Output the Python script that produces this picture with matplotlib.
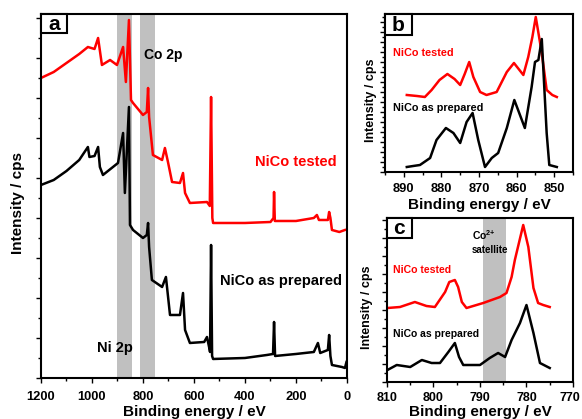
import numpy as np
import matplotlib.pyplot as plt
import matplotlib.transforms as mtransforms
from matplotlib.ticker import MultipleLocator
from matplotlib.patches import Rectangle

plt.rcParams['font.family'] = ['Liberation Sans', 'DejaVu Sans']
plt.rcParams['font.weight'] = 'bold'
plt.rcParams['mathtext.fontset'] = 'custom'
plt.rcParams['mathtext.bf'] = 'Liberation Sans:bold'
plt.rcParams['mathtext.rm'] = 'Liberation Sans:bold'

# ---- survey spectra (panel a) ----
surv_E_tested = [1200, 1150, 1100, 1050, 1016, 990, 976, 961, 929, 902, 878, 867, 855, 847, 839,
                 800, 785, 780, 776, 761, 725, 714, 702, 686, 655, 643, 635, 616, 549, 538, 533,
                 528, 525, 400, 300, 288, 286, 283, 200, 130, 118, 110, 75, 70, 65, 59, 30, 8]
surv_I_tested = [300, 306, 315, 324, 331, 329, 340, 313, 318, 313, 331, 296, 358, 278, 275,
                 263, 266, 290, 261, 223, 218, 230, 216, 196, 195, 205, 185, 175, 176, 172, 281,
                 160, 155, 155, 156, 160, 186, 157, 157, 160, 163, 158, 158, 166, 160, 148, 146, 148]

surv_E_prep = [1200, 1150, 1100, 1050, 1016, 1010, 990, 976, 969, 957, 898, 878, 871, 855, 851,
               839, 800, 785, 780, 776, 765, 725, 710, 694, 655, 643, 635, 616, 560, 549, 540,
               537, 533, 529, 525, 400, 314, 290, 286, 282, 200, 130, 114, 105, 75, 70, 65, 59, 20, 8, 2]
surv_I_prep = [193, 198, 207, 218, 231, 221, 222, 231, 211, 203, 215, 245, 185, 271, 153,
               148, 140, 143, 155, 131, 98, 91, 101, 63, 63, 85, 48, 35, 36, 41, 30,
               26, 133, 22, 19, 20, 23, 24, 56, 22, 24, 26, 35, 25, 28, 43, 22, 13, 11, 10, 16]

band_ni = (843, 902)
band_co = (753, 812)

# ---- Ni 2p (panel b) ----
ni_E_tested = [889.2, 886.5, 884.4, 882.6, 880.5, 878.4, 876.5, 875.0, 873.8, 872.6, 871.5, 869.7,
               868.0, 865.3, 862.6, 860.7, 858.2, 856.9, 855.8, 854.9, 853.3, 852.0, 850.5, 849.3]
ni_I_tested = [77, 76, 75, 82, 92, 98, 93, 87, 98, 110, 95, 80,
               77, 80, 100, 109, 97, 115, 135, 155, 119, 82, 77, 75]

ni_E_prep = [889.2, 887.5, 885.7, 883.0, 881.3, 878.8, 876.8, 875.0, 873.3, 871.7, 870.2, 868.4,
             866.6, 864.9, 862.6, 860.6, 857.8, 856.0, 855.1, 854.2, 853.3, 852.0, 851.3, 849.3]
ni_I_prep = [5, 6, 7, 14, 32, 44, 39, 29, 50, 59, 32, 5,
             14, 19, 44, 72, 44, 85, 110, 112, 133, 39, 7, 5]

# ---- Co 2p (panel c) ----
co_E_tested = [809.9, 807.2, 804.0, 801.5, 799.7, 797.5, 796.6, 795.4, 794.7, 793.9, 792.9, 789.3,
               785.7, 784.3, 783.2, 782.5, 780.7, 779.6, 778.5, 777.5, 776.4, 775.0]
co_I_tested = [74, 75, 80, 76, 75, 90, 100, 102, 95, 80, 74, 79,
               85, 89, 105, 122, 157, 135, 94, 79, 77, 75]

co_E_prep = [809.9, 807.9, 805.0, 802.5, 800.4, 798.6, 796.8, 795.4, 794.5, 793.6, 790.0, 787.9,
             786.1, 784.6, 783.2, 781.4, 780.0, 778.5, 777.1, 775.0]
co_I_prep = [12, 17, 15, 22, 19, 19, 30, 39, 25, 17, 17, 24,
             29, 25, 42, 59, 77, 49, 19, 14]

band_sat = (784.5, 789.3)

fig = plt.figure(figsize=(5.82, 4.19), dpi=100)
ax_a = fig.add_axes([0.0704, 0.0979, 0.5258, 0.8687])
ax_b = fig.add_axes([0.6615, 0.5895, 0.3230, 0.3771])
ax_c = fig.add_axes([0.6649, 0.0883, 0.3196, 0.3914])


def style(ax, xmaj, xmin, ymaj, ymin, pad, size=9.3):
    for s in ax.spines.values():
        s.set_linewidth(1.5)
    ax.xaxis.set_major_locator(MultipleLocator(xmaj))
    ax.xaxis.set_minor_locator(MultipleLocator(xmin))
    ax.yaxis.set_major_locator(MultipleLocator(ymaj))
    ax.yaxis.set_minor_locator(MultipleLocator(ymin))
    ax.tick_params(which='both', direction='out', top=False, right=False, width=1.0)
    ax.tick_params(which='major', length=3.5)
    ax.tick_params(which='minor', length=2.5)
    ax.tick_params(axis='x', labelsize=size, pad=pad)
    ax.set_yticklabels([])
    for t in ax.get_xticklabels():
        t.set_fontweight('bold')


def tag(ax, s, w, h):
    ax.add_patch(Rectangle((0, 1 - h), w, h, transform=ax.transAxes, fc='white',
                           ec='black', lw=1.5, zorder=5, clip_on=False))
    ax.text(w / 2, 1 - h / 2 - 0.004, s, transform=ax.transAxes, fontsize=15,
            fontweight='bold', ha='center', va='center', zorder=6)


# panel a
ax_a.axvspan(*band_ni, color='#c0c0c0', lw=0, zorder=0)
ax_a.axvspan(*band_co, color='#c0c0c0', lw=0, zorder=0)
ax_a.plot(surv_E_tested, surv_I_tested, color='red', lw=1.8)
ax_a.plot(surv_E_prep, surv_I_prep, color='black', lw=1.8)
ax_a.set_xlim(1200, 0)
ax_a.set_ylim(0, 364)
style(ax_a, 200, 100, 40, 20, 6.0)
ax_a.set_xlabel('Binding energy / eV', fontsize=11, fontweight='bold', labelpad=1.5)
ax_a.set_ylabel('Intensity / cps', fontsize=11, fontweight='bold')
ax_a.yaxis.set_label_coords(-0.052, 0.48)
tag(ax_a, 'a', 0.085, 0.052)
ax_a.text(795, 323, 'Co 2p', fontsize=10, fontweight='bold', ha='left', va='center')
ax_a.text(39, 216, 'NiCo tested', color='red', fontsize=10.5, fontweight='bold', ha='right', va='center')
ax_a.text(20, 97, 'NiCo as prepared', color='black', fontsize=10.5, fontweight='bold', ha='right', va='center')
ax_a.text(980, 30, 'Ni 2p', fontsize=10.5, fontweight='bold', ha='left', va='center')

# panel b
ax_b.plot(ni_E_tested, ni_I_tested, color='red', lw=1.8)
ax_b.plot(ni_E_prep, ni_I_prep, color='black', lw=1.8)
ax_b.set_xlim(895, 845)
ax_b.set_ylim(0, 158)
style(ax_b, 10, 5, 10, 5, 4.3)
ax_b.set_xlabel('Binding energy / eV', fontsize=11, fontweight='bold', labelpad=2)
ax_b.set_ylabel('Intensity / cps', fontsize=9, fontweight='bold')
ax_b.yaxis.set_label_coords(-0.043, 0.456)
tag(ax_b, 'b', 0.1436, 0.133)
ax_b.text(893, 119, 'NiCo tested', color='red', fontsize=7.8, fontweight='bold', ha='left', va='center')
ax_b.text(893, 64, 'NiCo as prepared', color='black', fontsize=7.8, fontweight='bold', ha='left', va='center')

# panel c
ax_c.axvspan(*band_sat, color='#c0c0c0', lw=0, zorder=0)
ax_c.plot(co_E_tested, co_I_tested, color='red', lw=1.8)
ax_c.plot(co_E_prep, co_I_prep, color='black', lw=1.8)
ax_c.set_xlim(810, 770)
ax_c.set_ylim(0, 164)
style(ax_c, 10, 5, 18, 9, 3.6, size=9)
ax_c.set_xlabel('Binding energy / eV', fontsize=11, fontweight='bold', labelpad=1)
ax_c.set_ylabel('Intensity / cps', fontsize=9, fontweight='bold')
ax_c.yaxis.set_label_coords(-0.075, 0.457)
tag(ax_c, 'c', 0.134, 0.122)
ax_c.text(791.7, 147, 'Co$^{\\mathbf{2{+}}}$', fontsize=7.5, fontweight='bold', ha='left', va='center')
ax_c.text(791.7, 132, 'satellite', fontsize=7, fontweight='bold', ha='left', va='center')
ax_c.text(808.7, 112, 'NiCo tested', color='red', fontsize=7.6, fontweight='bold', ha='left', va='center')
ax_c.text(808.7, 48, 'NiCo as prepared', color='black', fontsize=7.5, fontweight='bold', ha='left', va='center')

# nudge the last tick label ("770") so it stays inside the figure
fig.canvas.draw()
last = ax_c.xaxis.get_major_ticks()[-1].label1
for tk in ax_c.xaxis.get_major_ticks():
    if tk.label1.get_text() == '770':
        last = tk.label1
last.set_transform(last.get_transform() +
                   mtransforms.ScaledTranslation(-3 / 100, 0, fig.dpi_scale_trans))

fig.savefig('out.png', dpi=100)
